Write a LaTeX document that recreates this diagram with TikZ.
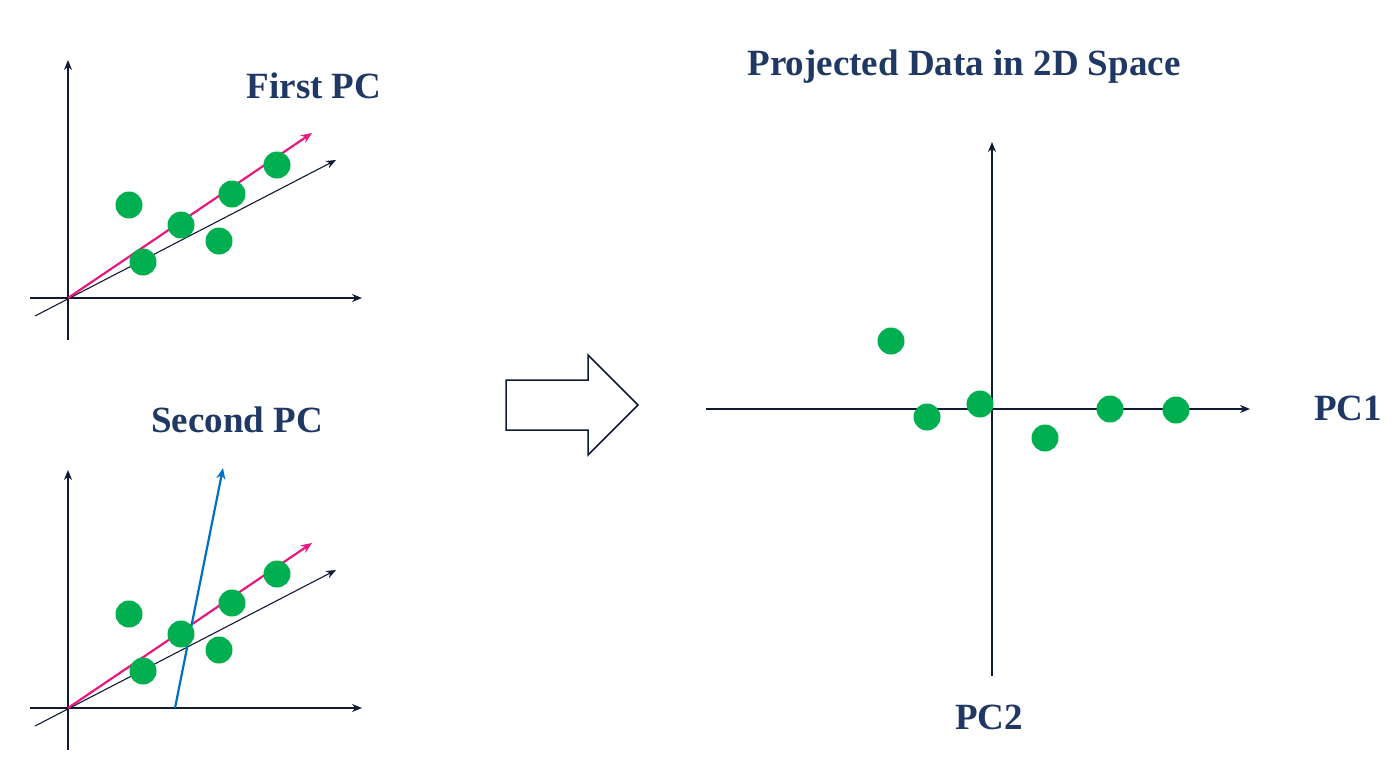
\documentclass[tikz,border=0pt]{standalone}
\usepackage{fontspec}
\setmainfont{Liberation Serif}
\usetikzlibrary{arrows.meta}
\definecolor{navy}{HTML}{1F3864}
\definecolor{dotg}{HTML}{00B050}
\definecolor{pinkc}{HTML}{E6197E}
\definecolor{bluec}{HTML}{0070C0}
\definecolor{axc}{HTML}{0F1A33}
\tikzset{
 ax/.style={draw=axc,line width=1.3pt,-{Stealth[length=10pt,width=8pt]}},
 pcarrow/.style={line width=2.2pt,-{Stealth[length=11pt,width=9pt]}},
 dot/.style={circle,fill=dotg,minimum size=27pt,inner sep=0pt},
 lbl/.style={text=navy,font=\fontsize{37}{42}\selectfont\bfseries}
}
\begin{document}
\begin{tikzpicture}[x=1pt,y=-1pt]
\useasboundingbox (0,0) rectangle (1400,782);
\foreach \dy/\n in {0/a,410/b}{
 \coordinate (o\n) at (68,298+\dy);
 \coordinate (yt\n) at (68,60+\dy); \coordinate (yb\n) at (68,340+\dy);
 \coordinate (xl\n) at (30,298+\dy); \coordinate (xr\n) at (362,298+\dy);
 \coordinate (ls\n) at (35,316+\dy); \coordinate (le\n) at (336,160+\dy);
 \coordinate (pe\n) at (312,133+\dy);
 \draw[ax] (yb\n) -- (yt\n);
 \draw[ax] (xl\n) -- (xr\n);
 \draw[ax,line width=1.1pt] (ls\n) -- (le\n);
 \draw[pcarrow,pinkc] (o\n) -- (pe\n);
}
\coordinate (bs) at (175,708); \coordinate (be) at (223,468);
\draw[pcarrow,bluec] (bs) -- (be);
\foreach \dy/\n in {0/a,409/b}{
 \node[dot] (d1\n) at (129,205+\dy) {};
 \node[dot] (d2\n) at (143,262+\dy) {};
 \node[dot] (d3\n) at (181,225+\dy) {};
 \node[dot] (d4\n) at (232,194+\dy) {};
 \node[dot] (d5\n) at (219,241+\dy) {};
 \node[dot] (d6\n) at (277,165+\dy) {};
}
\node[lbl] (t1) at (314,86) {First PC};
\node[lbl] (t2) at (237,420) {Second PC};
\draw[draw=axc,line width=1.5pt,fill=white] (506,380) -- (588,380) -- (588,355) -- (638,405) -- (588,455) -- (588,430) -- (506,430) -- cycle;
\coordinate (ryb) at (992,676); \coordinate (ryt) at (992,142);
\coordinate (rxl) at (706,409); \coordinate (rxr) at (1250,409);
\draw[ax] (ryb) -- (ryt);
\draw[ax] (rxl) -- (rxr);
\node[dot] (r1) at (891,341) {};
\node[dot] (r2) at (927,417) {};
\node[dot] (r3) at (980,404) {};
\node[dot] (r4) at (1045,438) {};
\node[dot] (r5) at (1110,409) {};
\node[dot] (r6) at (1176,410) {};
\node[lbl] (t3) at (964,67) {Projected Data in 2D Space};
\node[lbl] (t4) at (1348,408) {PC1};
\node[lbl] (t5) at (989,717) {PC2};
\end{tikzpicture}
\end{document}
